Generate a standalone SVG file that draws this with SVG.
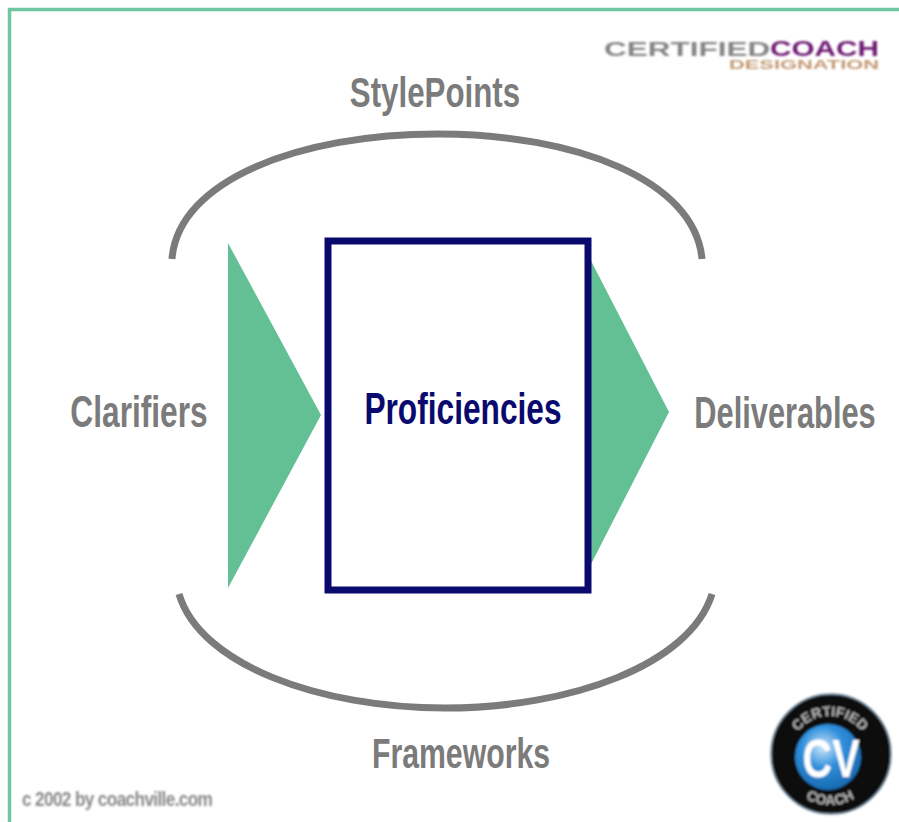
<svg xmlns="http://www.w3.org/2000/svg" width="899" height="822" viewBox="0 0 899 822">
<defs>
<radialGradient id="ball" cx="0.42" cy="0.35" r="0.7"><stop offset="0" stop-color="#cfe8fa"/><stop offset="0.45" stop-color="#2f8fdc"/><stop offset="1" stop-color="#1566ac"/></radialGradient>
<filter id="soft" x="-5%" y="-5%" width="110%" height="110%"><feGaussianBlur stdDeviation="0.8"/></filter>
<path id="topArc" d="M 789 757 A 41 41 0 0 1 871 757"/>
<path id="botArc" d="M 782 757 A 48 48 0 0 0 878 757"/>
</defs>
<style>
.lbl{font-family:"Liberation Sans",Arial,sans-serif;font-weight:700;fill:#7b7b7b;text-anchor:middle}
.arc{fill:none;stroke:#7b7b7b;stroke-width:7}
.tri{fill:#62c094}
</style>
<rect width="899" height="822" fill="#fff"/>
<path d="M9.500 822V9.500H899" fill="none" stroke="#6fc79f" stroke-width="3.500"/>
<g id="connectors">
<path class="arc" d="M172 259C178 180 300 134 438 134C575 134 695 180 702 259"/>
<path class="arc" d="M179 594C200 665 320 708 445 708C570 708 690 665 712 594"/>
</g>
<g id="node-left-triangle"><polygon class="tri" points="228,243 321,415 228,588"/></g>
<g id="node-right-triangle"><polygon class="tri" points="588,255 669,412 588,570"/></g>
<g id="node-proficiencies">
<rect x="328" y="241" width="260" height="349" fill="#fff" stroke="#0a0a6e" stroke-width="7"/>
<text class="lbl" style="fill:#0a0a6e" transform="translate(463 424) scale(.72 1)" font-size="44">Proficiencies</text>
</g>
<g id="node-stylepoints"><text class="lbl" transform="translate(435 107) scale(.745 1)" font-size="42">StylePoints</text></g>
<g id="node-clarifiers"><text class="lbl" transform="translate(139 427) scale(.72 1)" font-size="44">Clarifiers</text></g>
<g id="node-deliverables"><text class="lbl" transform="translate(785 428) scale(.70 1)" font-size="44">Deliverables</text></g>
<g id="node-frameworks"><text class="lbl" transform="translate(461 768) scale(.72 1)" font-size="42">Frameworks</text></g>
<g id="logo" filter="url(#soft)">
<text transform="translate(604 56) scale(1.5 1)" font-family="Liberation Sans,sans-serif" font-size="21" font-weight="700" fill="#858585">CERTIFIED</text>
<text transform="translate(770 56) scale(1.35 1)" font-family="Liberation Sans,sans-serif" font-size="22" font-weight="700" fill="#6d1a72">COACH</text>
<text transform="translate(729 69) scale(1.68 1)" font-family="Liberation Sans,sans-serif" font-size="13" font-weight="700" fill="#c39a73">DESIGNATION</text>
</g>
<g id="badge" filter="url(#soft)">
<circle cx="831" cy="754" r="60" fill="#0a0a0a" stroke="#7d95a8" stroke-width="1.500"/>
<circle cx="828" cy="757" r="33" fill="url(#ball)"/>
<text transform="translate(831 777) scale(.76 1)" font-family="Liberation Sans,sans-serif" font-size="54" font-weight="700" fill="#fff" text-anchor="middle">CV</text>
<text font-family="Liberation Sans,sans-serif" font-size="14" font-weight="700" fill="#b5b5b5" text-anchor="middle"><textPath href="#topArc" startOffset="50%">CERTIFIED</textPath></text>
<text font-family="Liberation Sans,sans-serif" font-size="14" font-weight="700" fill="#b5b5b5" text-anchor="middle"><textPath href="#botArc" startOffset="50%">COACH</textPath></text>
</g>
<g id="copyright" filter="url(#soft)"><text transform="translate(22 806) scale(.86 1)" font-family="Liberation Sans,sans-serif" font-size="20" font-weight="700" fill="#8a8a8a" textLength="222" lengthAdjust="spacing">c 2002 by coachville.com</text></g>
</svg>
